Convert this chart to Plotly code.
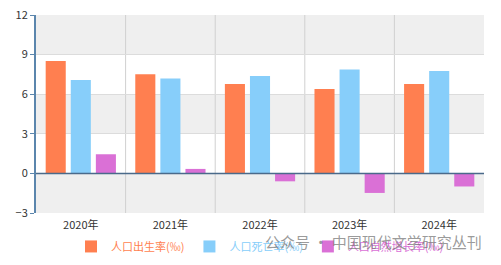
import plotly.graph_objects as go

years = ["2020年", "2021年", "2022年", "2023年", "2024年"]
birth = [8.52, 7.52, 6.77, 6.39, 6.77]
death = [7.07, 7.18, 7.37, 7.87, 7.76]
natural = [1.45, 0.34, -0.60, -1.48, -0.99]
names = ["人口出生率(‰)", "人口死亡率(‰)", "人口自然增长率(‰)"]
colors = ["#FF7F50", "#87CEFA", "#DA70D6"]
yticks = [-3, 0, 3, 6, 9, 12]

fig = go.Figure()
for vals, name, c in zip([birth, death, natural], names, colors):
    fig.add_trace(go.Bar(
        x=years, y=vals, marker=dict(color=c, line=dict(width=0)),
        name=f'<span style="color:{c}">{name}</span>',
    ))

# alternating background bands
for lo, hi in [(9, 12), (3, 6), (-3, 0)]:
    fig.add_shape(type="rect", xref="paper", x0=0, x1=1, yref="y", y0=lo, y1=hi,
                  fillcolor="#efefef", line_width=0, layer="below")
# vertical separators between categories
for i in range(1, len(years)):
    fig.add_shape(type="line", xref="x", x0=i - 0.5, x1=i - 0.5, yref="paper", y0=0, y1=1,
                  line=dict(color="#d0d0d0", width=1), layer="below")
# zero line
fig.add_shape(type="line", xref="paper", x0=0, x1=1, yref="y", y0=0, y1=0,
              line=dict(color="#4a6a8a", width=1.5))

fig.add_annotation(text="公众号 · 中国现代文学研究丛刊", xref="paper", yref="paper",
                   x=1.0, y=-0.145, xanchor="right", yanchor="middle", showarrow=False,
                   font=dict(size=15, color="rgba(110,110,110,0.7)",
                             family="Noto Sans CJK SC"))

fig.update_layout(
    width=501, height=265,
    margin=dict(l=36, r=17, t=15, b=52, autoexpand=False),
    plot_bgcolor="white", paper_bgcolor="white",
    barmode="group", bargap=0.16, bargroupgap=0.2,
    font=dict(family="Noto Sans CJK SC, Noto Sans", size=11, color="#444"),
    showlegend=True,
    legend=dict(orientation="h", x=0.5, xanchor="center", yref="container",
                y=0.07, yanchor="middle",
                font=dict(size=11), bgcolor="rgba(0,0,0,0)"),
    xaxis=dict(showgrid=False, showline=False, ticks="", ticklabelstandoff=4,
               tickfont=dict(size=11, color="#333")),
    yaxis=dict(range=[-3, 12], tickvals=yticks, showgrid=True, gridcolor="#dcdcdc",
               zeroline=False, showline=True, linecolor="#5b86ad", linewidth=2,
               ticks="outside", ticklen=4, tickcolor="#5b86ad",
               tickfont=dict(size=11, color="#333")),
)

fig.write_html("out.html")
